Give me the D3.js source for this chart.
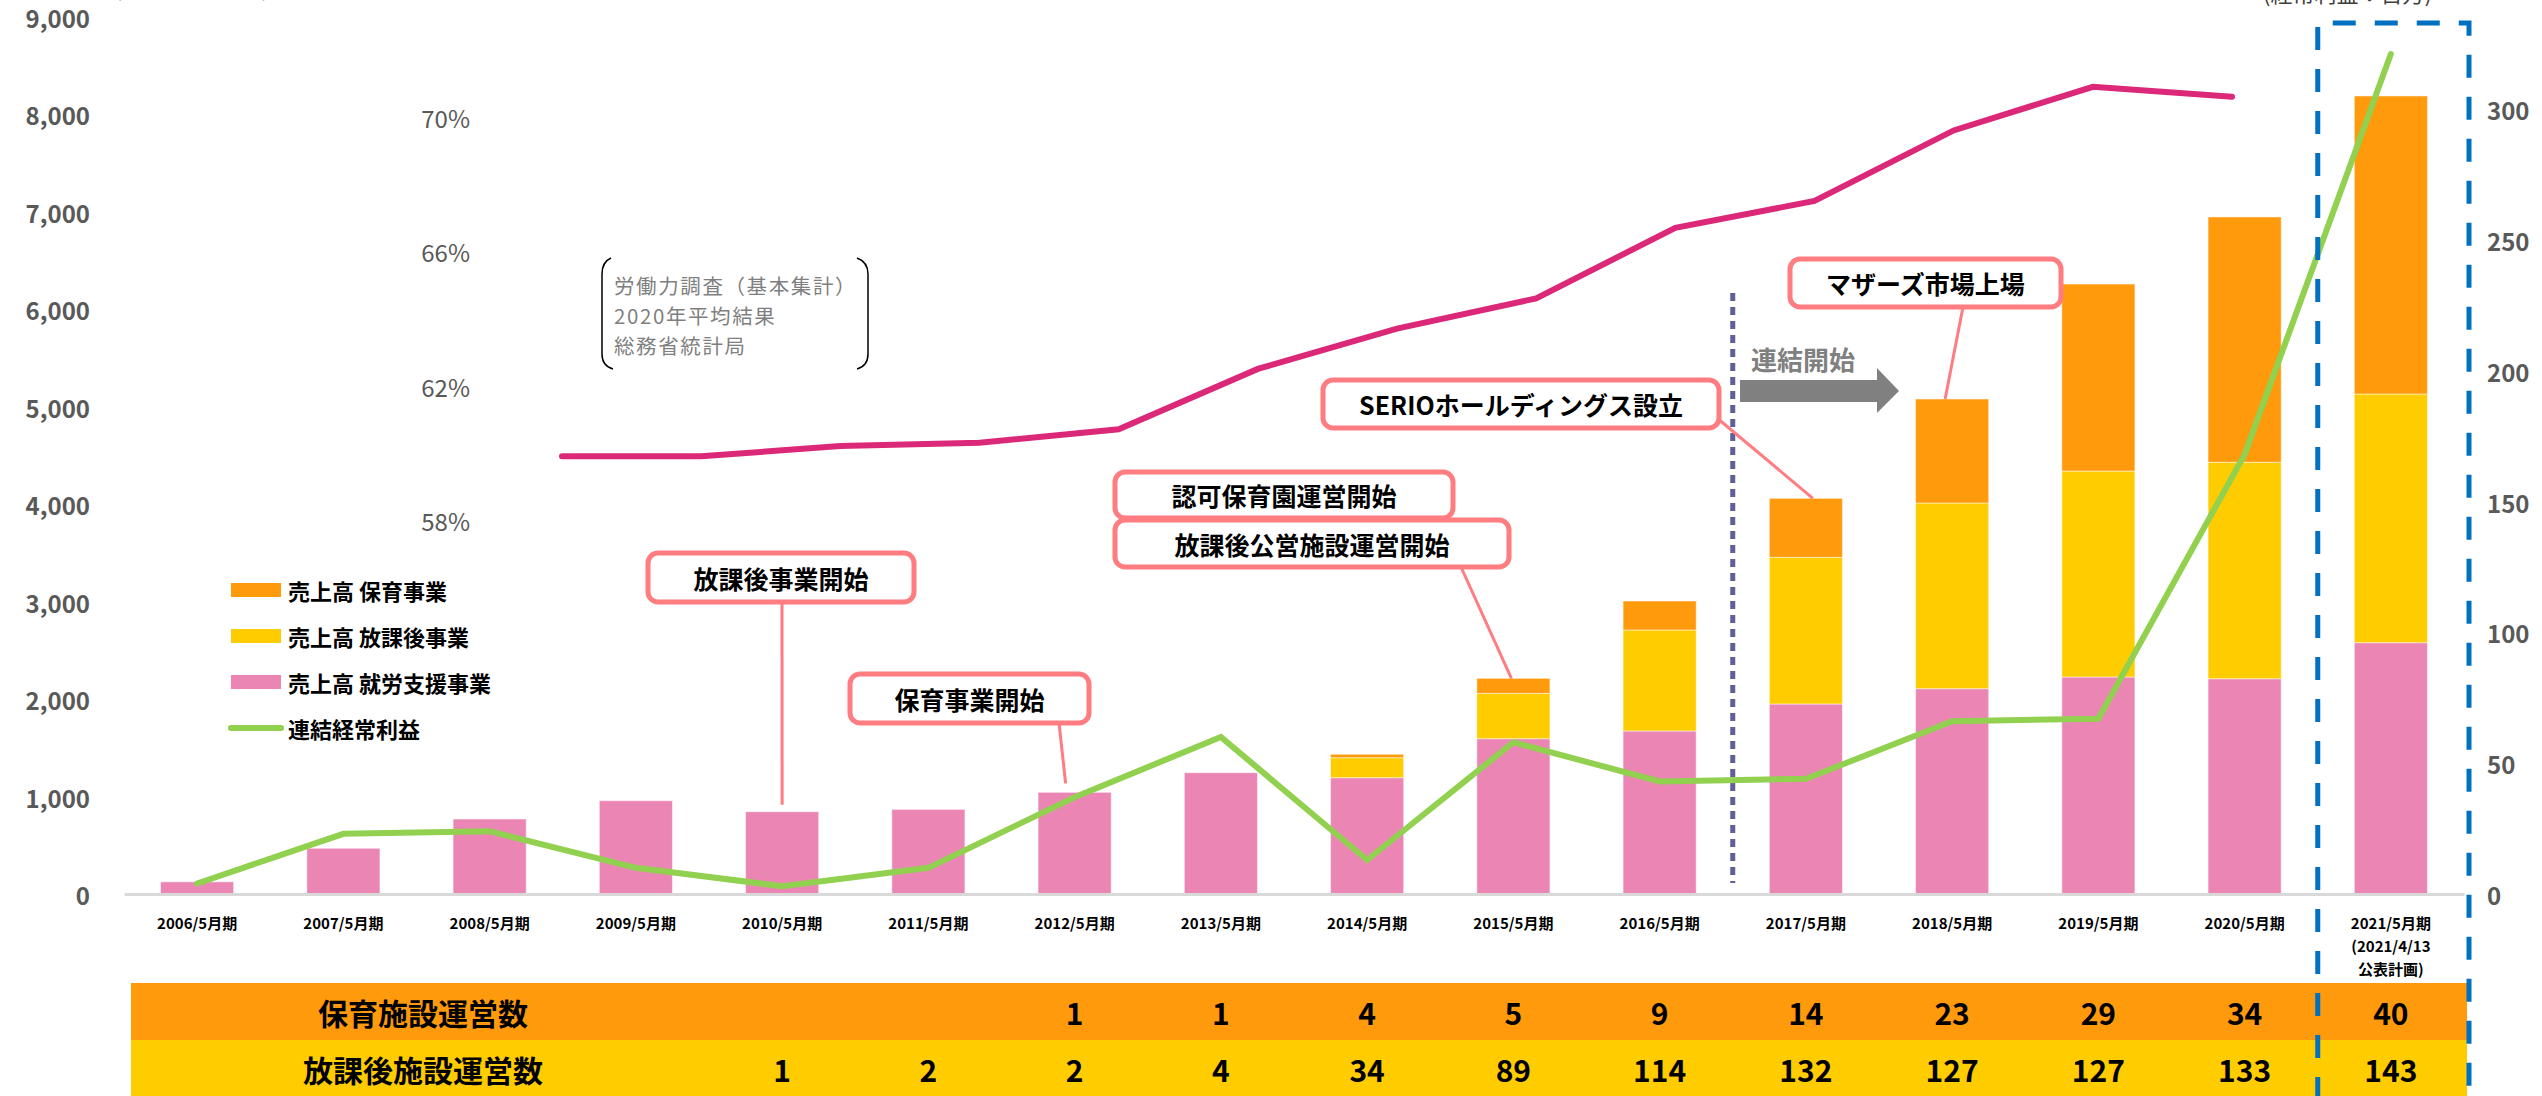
<!DOCTYPE html>
<html><head><meta charset="utf-8">
<script src="https://cdn.jsdelivr.net/npm/d3@7"></script>
<style>
body{margin:0;background:#fff;}
svg{display:block;}
text{font-family:"Noto Sans CJK JP","Noto Sans",sans-serif;}
</style>
</head><body>
<svg id="c" width="2542" height="1096"></svg>
<script>
// ---------- DATA ----------
const categories = ['2006/5月期','2007/5月期','2008/5月期','2009/5月期','2010/5月期','2011/5月期','2012/5月期','2013/5月期','2014/5月期','2015/5月期','2016/5月期','2017/5月期','2018/5月期','2019/5月期','2020/5月期','2021/5月期'];
const tickLabels = ['2006/5月期','2007/5月期','2008/5月期','2009/5月期','2010/5月期','2011/5月期','2012/5月期','2013/5月期','2014/5月期','2015/5月期','2016/5月期','2017/5月期','2018/5月期','2019/5月期','2020/5月期','2021/5月期\n(2021/4/13\n公表計画)'];
const seriesNames = ['売上高 就労支援事業','売上高 放課後事業','売上高 保育事業'];
const salesShugyo  = [125,469,769,957,844,868,1043,1244,1193,1593,1672,1949,2106,2226,2208,2578];
const salesHoukago = [0,0,0,0,0,0,0,0,205,465,1036,1504,1904,2112,2220,2550];
const salesHoiku   = [0,0,0,0,0,0,0,0,35,154,297,605,1067,1918,2516,3057];
const profitName = '連結経常利益';
const ordinaryProfit = [4,23,24,10,3,10,37,60,13,58,43,44,66,67,168,321];
const employYears = ['2008','2009','2010','2011','2012','2013','2014','2015','2016','2017','2018','2019','2020'];
const employRate = [59.9,59.9,60.2,60.3,60.7,62.5,63.7,64.6,66.7,67.5,69.6,70.9,70.6];
const rowNames = ['保育施設運営数','放課後施設運営数'];
const hoikuCount   = [null,null,null,null,null,null,1,1,4,5,9,14,23,29,34,40];
const houkagoCount = [null,null,null,null,1,2,2,4,34,89,114,132,127,127,133,143];
const leftTicks  = [0,1000,2000,3000,4000,5000,6000,7000,8000,9000];
const rightTicks = [0,50,100,150,200,250,300];
const pctTicks   = [58,62,66,70];
const noteLines = ['労働力調査（基本集計）','2020年平均結果','総務省統計局'];

// ---------- STYLE ----------
const C = {pink:'#EB86B4', yellow:'#FFCC00', orange:'#FF9A0C', green:'#92D050', magenta:'#DC2878',
  callout:'#FF7C80', axis:'#595959', blue:'#0070C0', dotted:'#5F6095', grid:'#D9D9D9'};

const svg = d3.select('#c');

// ---------- SCALES ----------
const x = d3.scaleBand().domain(categories).range([124,2464]).paddingInner(0.5).paddingOuter(0.25);
const yL = d3.scaleLinear().domain([0,9000]).range([894,16.5]);
const yR = d3.scaleLinear().domain([0,300]).range([894,109]);
const xE = d3.scalePoint().domain(employYears).range([562,2232]);
const yP = d3.scaleLinear().domain([58,70]).range([520,117]);
const cx = c => x(c) + x.bandwidth()/2;

// ---------- TABLE ----------
const rowH = 57, rowTop = 983;
const rowColors = [C.orange, C.yellow];
[hoikuCount, houkagoCount].forEach((arr,ri)=>{
  const y0 = rowTop + ri*rowH;
  svg.append('rect').attr('x',131).attr('y',y0).attr('width',2467-131).attr('height',rowH).attr('fill',rowColors[ri]);
  svg.append('text').attr('x',423).attr('y',y0+rowH/2).attr('text-anchor','middle').attr('dominant-baseline','central')
    .attr('font-size',30).attr('font-weight',700).attr('fill','#000').text(rowNames[ri]);
  svg.append('g').selectAll('text').data(categories.map((c,i)=>({c,v:arr[i]})).filter(d=>d.v!=null)).join('text')
    .attr('x',d=>cx(d.c)).attr('y',y0+rowH/2).attr('text-anchor','middle').attr('dominant-baseline','central')
    .attr('font-size',30).attr('font-weight',700).attr('fill','#000').text(d=>d.v);
});

// ---------- BARS ----------
const table = categories.map((c,i)=>({cat:c, s0:salesShugyo[i], s1:salesHoukago[i], s2:salesHoiku[i]}));
const stack = d3.stack().keys(['s0','s1','s2'])(table);
const barColors = [C.pink, C.yellow, C.orange];
svg.append('g').selectAll('g').data(stack).join('g').attr('fill',(d,i)=>barColors[i])
  .selectAll('rect').data(d=>d.filter(e=>e[1]-e[0]>0)).join('rect')
  .attr('x',d=>x(d.data.cat)).attr('width',x.bandwidth())
  .attr('y',d=>yL(d[1])).attr('height',d=>yL(d[0])-yL(d[1]))
  .attr('stroke','#fff').attr('stroke-opacity',0.5).attr('stroke-width',1);

// ---------- AXES ----------
const gx = svg.append('g').attr('transform','translate(0,894)')
  .call(d3.axisBottom(x).tickSize(0).tickPadding(0).tickFormat((d,i)=>''));
gx.select('.domain').attr('stroke',C.grid).attr('stroke-width',3);
gx.selectAll('.tick').each(function(d,i){
  const t = d3.select(this).append('text').attr('fill','#000').attr('font-size',15).attr('font-weight',700)
    .attr('text-anchor','middle');
  tickLabels[i].split('\n').forEach((ln,k)=>{
    t.append('tspan').attr('x',0).attr('y',28+k*23).attr('dominant-baseline','central').text(ln);
  });
});

const gl = svg.append('g').attr('transform','translate(90,0)')
  .call(d3.axisLeft(yL).tickValues(leftTicks).tickFormat(d3.format(',')).tickSize(0).tickPadding(0));
gl.select('.domain').remove();
gl.selectAll('text').attr('fill',C.axis).attr('font-size',24).attr('font-weight',700)
  .attr('font-family','"Noto Sans CJK JP",sans-serif').attr('dy',null).attr('dominant-baseline','central');

const gr = svg.append('g').attr('transform','translate(2487,0)')
  .call(d3.axisRight(yR).tickValues(rightTicks).tickSize(0).tickPadding(0));
gr.select('.domain').remove();
gr.selectAll('text').attr('fill',C.axis).attr('font-size',24).attr('font-weight',700)
  .attr('font-family','"Noto Sans CJK JP",sans-serif').attr('dy',null).attr('dominant-baseline','central');

const gp = svg.append('g').attr('transform','translate(470,0)')
  .call(d3.axisLeft(yP).tickValues(pctTicks).tickFormat(d=>d+'%').tickSize(0).tickPadding(0));
gp.select('.domain').remove();
gp.selectAll('text').attr('fill',C.axis).attr('font-size',24).attr('font-weight',400)
  .attr('font-family','"Noto Sans CJK JP",sans-serif').attr('dy',null).attr('dominant-baseline','central');

// top unit labels (cut off at the top edge, as in the reference)
svg.append('text').attr('x',115).attr('y',-3).attr('font-size',20).attr('fill','#A6A6A6').text('(売上高：百万円)');
svg.append('text').attr('x',2263).attr('y',2).attr('font-size',22).attr('fill','#404040').text('(経常利益：百万)');

// ---------- DOTTED LINE & ARROW ----------
const xSplit = x(categories[11]) - x.step()*0.25;
svg.append('line').attr('x1',xSplit).attr('x2',xSplit).attr('y1',293).attr('y2',883)
  .attr('stroke',C.dotted).attr('stroke-width',5).attr('stroke-dasharray','8,6');
svg.append('path').attr('d','M1740,380 L1877,380 L1877,368 L1899,391 L1877,413 L1877,402 L1740,402 Z').attr('fill','#808080');
svg.append('text').attr('x',1751).attr('y',358).attr('dominant-baseline','central').attr('font-size',26)
  .attr('font-weight',700).attr('fill','#808080').text('連結開始');

// ---------- LINES ----------
svg.append('path').datum(ordinaryProfit).attr('fill','none').attr('stroke',C.green).attr('stroke-width',6)
  .attr('stroke-linecap','round')
  .attr('d',d3.line().x((d,i)=>cx(categories[i])).y(d=>yR(d)));
svg.append('path').datum(employRate).attr('fill','none').attr('stroke',C.magenta).attr('stroke-width',6)
  .attr('stroke-linecap','round')
  .attr('d',d3.line().x((d,i)=>xE(employYears[i])).y(d=>yP(d)));

// ---------- NOTE ----------
svg.append('path').attr('d','M611,258 Q602,262 602,274 L602,354 Q602,366 613,369').attr('fill','none').attr('stroke','#000').attr('stroke-width',1.5);
svg.append('path').attr('d','M857,258 Q868,262 868,274 L868,354 Q868,366 857,369').attr('fill','none').attr('stroke','#000').attr('stroke-width',1.5);
const note = svg.append('text').attr('font-size',20.5).attr('letter-spacing',1.6).attr('fill','#7F7F7F');
noteLines.forEach((t,k)=>note.append('tspan').attr('x',614).attr('y',285+k*30).attr('dominant-baseline','central').text(t));

// ---------- LEGEND ----------
const legend = [
  {name:seriesNames[2], color:C.orange, type:'rect'},
  {name:seriesNames[1], color:C.yellow, type:'rect'},
  {name:seriesNames[0], color:C.pink, type:'rect'},
  {name:profitName, color:C.green, type:'line'}
];
legend.forEach((d,k)=>{
  const yy = 590 + k*46;
  if(d.type==='rect') svg.append('rect').attr('x',231).attr('y',yy-7).attr('width',50).attr('height',14).attr('fill',d.color);
  else svg.append('line').attr('x1',231).attr('x2',281).attr('y1',yy).attr('y2',yy).attr('stroke',d.color).attr('stroke-width',6).attr('stroke-linecap','round');
  svg.append('text').attr('x',288).attr('y',yy).attr('dominant-baseline','central').attr('font-size',22)
    .attr('font-weight',700).attr('fill','#000').text(d.name);
});

// ---------- CALLOUTS ----------
const totals = categories.map((c,i)=>salesShugyo[i]+salesHoukago[i]+salesHoiku[i]);
const callouts = [
  {text:'放課後事業開始', box:[648,553,266,49], from:[782,602], cat:4, dx:0, gap:7},
  {text:'保育事業開始', box:[850,674,239,49], from:[1059,723], cat:6, dx:-9, gap:9},
  {text:'認可保育園運営開始', box:[1115,472,338,46], from:null},
  {text:'放課後公営施設運営開始', box:[1115,520,394,47], from:[1461,567], cat:9, dx:-2, gap:0},
  {text:'SERIOホールディングス設立', box:[1323,380,396,48], from:[1717,418], cat:11, dx:7, gap:0},
  {text:'マザーズ市場上場', box:[1790,259,271,48], from:[1963,307], cat:12, dx:-7, gap:0}
];
callouts.forEach(d=>{
  if(d.from){
    svg.append('line').attr('x1',d.from[0]).attr('y1',d.from[1])
      .attr('x2',cx(categories[d.cat])+d.dx).attr('y2',yL(totals[d.cat])-d.gap)
      .attr('stroke',C.callout).attr('stroke-width',3);
  }
});
callouts.forEach(d=>{
  const [bx,by,bw,bh] = d.box;
  svg.append('rect').attr('x',bx).attr('y',by).attr('width',bw).attr('height',bh).attr('rx',10)
    .attr('fill','#fff').attr('stroke',C.callout).attr('stroke-width',5);
  svg.append('text').attr('x',bx+bw/2).attr('y',by+bh/2).attr('text-anchor','middle').attr('dominant-baseline','central')
    .attr('font-size',25).attr('font-weight',700).attr('fill','#000').text(d.text);
});

// ---------- PLAN BOX ----------
const last = categories[categories.length-1];
const bl = x(last) - x.step()*0.25, br = x(last)+x.bandwidth()+x.step()*0.25+5;
svg.append('path').attr('d',`M${bl},1100 L${bl},23 L${br},23 L${br},1100`).attr('fill','none')
  .attr('stroke',C.blue).attr('stroke-width',5).attr('stroke-dasharray','23,19');
</script>
</body></html>
